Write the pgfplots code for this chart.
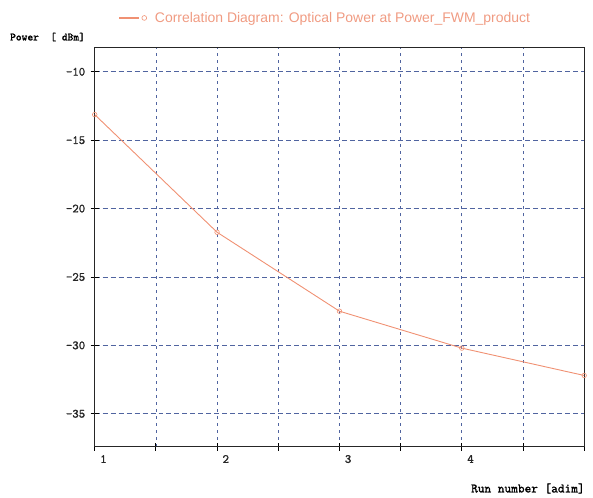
\documentclass[border=0pt]{standalone}
\usepackage{pgfplots}
\pgfplotsset{compat=1.18}
\usepackage{fontspec}
\newfontfamily\titlefont{Liberation Sans}
\newfontfamily\monofont[FakeBold=1.6]{Latin Modern Mono}
\definecolor{gridblue}{RGB}{80,100,160}
\definecolor{salmon}{RGB}{240,145,115}
\definecolor{titlesalmon}{RGB}{240,155,130}
\newcommand{\monolab}{\monofont\fontsize{12.5}{14}\selectfont}
\begin{document}
\begin{tikzpicture}
\begin{axis}[
  scale only axis,
  width=491pt, height=400pt,
  xmin=1, xmax=5, ymin=-37.4, ymax=-8.25,
  xtick={1,1.5,2,2.5,3,3.5,4,4.5,5},
  xticklabels={1,,2,,3,,4,,},
  ytick={-35,-30,-25,-20,-15,-10},
  tick pos=left,
  tick align=center,
  major tick length=8pt,
  tick style={black, line width=0.8pt},
  axis line style={black!85, line width=1.1pt},
  /pgf/number format/assume math mode=true,
  tick label style={font=\monolab, text=black!85},
  xticklabel style={anchor=north west, xshift=2pt, yshift=-1pt},
  yticklabel style={xshift=-2pt},
  xmajorgrids, ymajorgrids,
  major x grid style={gridblue, line width=0.7pt, dash pattern=on 3pt off 4pt},
  major y grid style={gridblue, line width=0.8pt, dash pattern=on 5pt off 3pt},
  xlabel={Run number [adim]},
  ylabel={Power~~[~dBm]},
  every axis x label/.style={at={(rel axis cs:1,-0.105)}, anchor=east, xshift=4pt,
    font=\monofont\fontsize{13}{15}\selectfont},
  every axis y label/.style={at={(rel axis cs:-0.18,1.027)}, anchor=west, xshift=0pt,
    font=\monofont\fontsize{11}{13}\selectfont},
  legend style={at={(rel axis cs:0.042,1.075)}, anchor=west, draw=none, fill=none,
    font=\titlefont\fontsize{14}{16}\selectfont, text=titlesalmon},
  legend image code/.code={
    \draw[salmon, line width=1.8pt] (0pt,0pt) -- (20pt,0pt);
    \draw[salmon, line width=0.6pt] (25pt,0pt) circle (2.4pt);
  },
]
\addplot[salmon, line width=0.9pt, mark=o, mark size=2.3pt, mark options={line width=0.6pt}]
  coordinates {
  (1,-13.13)
  (2,-21.73)
  (3,-27.50)
  (4,-30.20)
  (5,-32.20)
};
\addlegendentry{\hspace{6pt}Correlation Diagram: Optical Power at Power\_FWM\_product}
\end{axis}
\path (-95pt,-51pt) rectangle (498pt,448pt);
\end{tikzpicture}
\end{document}
